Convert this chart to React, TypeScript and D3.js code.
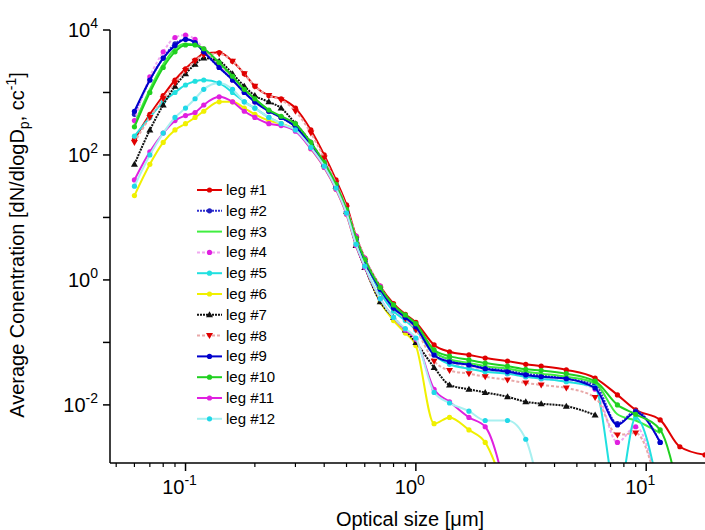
import React from 'react';
import * as d3 from 'd3';

// particle size grid [um]
const sizes = [0.06, 0.07, 0.08, 0.09, 0.1, 0.11, 0.12, 0.14, 0.16, 0.18, 0.2, 0.23, 0.26,
  0.3, 0.35, 0.4, 0.45, 0.5, 0.55, 0.6, 0.7, 0.8, 0.9, 1.0,
  1.2, 1.4, 1.7, 2.0, 2.5, 3.0, 3.5, 4.5, 6.0, 7.5, 9.0, 11.5, 14, 18];

// log10 of dN/dlogDp, null = no data
const leg1 = [2.25, 2.65, 2.95, 3.2, 3.38, 3.52, 3.62, 3.64, 3.5, 3.3, 3.1, 2.95, 2.9,
  2.75, 2.4, 2.0, 1.6, 1.2, 0.7, 0.35, -0.1, -0.38, -0.55, -0.68,
  -1.04, -1.15, -1.2, -1.25, -1.3, -1.35, -1.38, -1.44, -1.57, -1.84, -2.08, -2.24, -2.67, -2.8];
const leg2 = [2.65, 3.2, 3.55, 3.78, 3.85, 3.8, 3.65, 3.4, 3.2, 3.0, 2.85, 2.7, 2.6,
  2.45, 2.15, 1.85, 1.5, 1.1, 0.65, 0.3, -0.15, -0.45, -0.6, -0.75,
  -1.15, -1.28, -1.35, -1.4, -1.45, -1.5, -1.53, -1.58, -1.68, -2.3, -2.1, -2.6, null, null];
const leg3 = [2.5, 3.05, 3.45, 3.7, 3.78, 3.76, 3.68, 3.45, 3.25, 3.05, 2.9, 2.72, 2.6,
  2.48, 2.18, 1.87, 1.52, 1.12, 0.66, 0.32, -0.13, -0.42, -0.58, -0.72,
  -1.15, -1.27, -1.33, -1.38, -1.42, -1.47, -1.5, -1.55, -1.65, -2.15, -2.25, -2.45, null, null];
const leg4 = [2.55, 3.25, 3.65, 3.88, 3.92, 3.85, 3.7, 3.45, 3.2, 3.0, 2.85, 2.7, 2.6,
  2.5, 2.2, 1.9, 1.55, 1.15, 0.7, 0.35, -0.1, -0.45, -0.62, -0.78,
  -1.2, -1.33, -1.4, -1.45, -1.5, -1.55, -1.58, -1.62, -1.75, -2.6, -2.35, -3.5, null, null];
const leg5 = [2.3, 2.6, 2.85, 3.0, 3.12, 3.18, 3.2, 3.15, 3.0, 2.85, 2.75, 2.6, 2.5,
  2.4, 2.15, 1.85, 1.5, 1.1, 0.6, 0.3, -0.2, -0.5, -0.65, -0.8,
  -1.2, -1.35, -1.42, -1.47, -1.5, -1.55, -1.58, -1.63, -1.72, -3.5, -2.2, -3.5, null, null];
const leg6 = [1.35, 1.85, 2.2, 2.4, 2.5, 2.6, 2.7, 2.85, 2.85, 2.75, 2.65, 2.55, 2.5,
  2.4, 2.1, 1.8, 1.45, 1.05, 0.55, 0.2, -0.35, -0.65, -0.85, -1.05,
  -2.3, -2.2, -2.4, -2.6, -3.5, null, null, null, null, null, null, null, null, null];
const leg7 = [1.85, 2.4, 2.8, 3.1, 3.3, 3.45, 3.55, 3.5, 3.3, 3.1, 2.95, 2.85, 2.75,
  2.5, 2.2, 1.85, 1.5, 1.1, 0.55, 0.2, -0.35, -0.6, -0.8, -1.0,
  -1.4, -1.68, -1.75, -1.8, -1.87, -1.95, -1.98, -2.02, -2.16, null, null, null, null, null];
const leg8 = [2.2, 2.6, 2.9, 3.15, 3.35, 3.5, 3.6, 3.62, 3.5, 3.3, 3.1, 2.95, 2.88,
  2.7, 2.35, 1.95, 1.55, 1.15, 0.65, 0.3, -0.15, -0.45, -0.62, -0.8,
  -1.3, -1.45, -1.5, -1.55, -1.6, -1.65, -1.68, -1.73, -1.88, -2.48, -2.45, -3.5, null, null];
const leg9 = [2.7, 3.2, 3.55, 3.75, 3.85, 3.8, 3.65, 3.4, 3.2, 3.0, 2.85, 2.7, 2.6,
  2.45, 2.15, 1.85, 1.5, 1.1, 0.65, 0.3, -0.15, -0.45, -0.6, -0.75,
  -1.2, -1.31, -1.36, -1.42, -1.47, -1.52, -1.55, -1.58, -1.73, -2.32, -2.12, -2.6, null, null];
const leg10 = [2.45, 3.0, 3.4, 3.65, 3.76, 3.76, 3.7, 3.48, 3.26, 3.05, 2.9, 2.72, 2.62,
  2.5, 2.2, 1.88, 1.53, 1.13, 0.67, 0.33, -0.12, -0.4, -0.56, -0.7,
  -1.12, -1.22, -1.28, -1.33, -1.38, -1.43, -1.45, -1.5, -1.62, -2.0, -2.15, -2.4, -3.5, null];
const leg11 = [1.6, 2.05, 2.35, 2.55, 2.63, 2.68, 2.8, 2.93, 2.85, 2.7, 2.6, 2.5, 2.47,
  2.38, 2.1, 1.8, 1.45, 1.05, 0.55, 0.2, -0.3, -0.6, -0.8, -0.95,
  -1.75, -1.95, -2.2, -2.35, -3.5, null, null, null, null, null, null, null, null, null];
const leg12 = [1.5, 2.0, 2.35, 2.6, 2.75, 2.9, 3.05, 3.15, 3.05, 2.85, 2.75, 2.6, 2.5,
  2.4, 2.12, 1.82, 1.47, 1.07, 0.57, 0.22, -0.3, -0.6, -0.78, -0.93,
  -1.8, -1.97, -2.1, -2.25, -2.25, -2.55, -3.5, null, null, null, null, null, null, null];

const names = ['leg #1', 'leg #2', 'leg #3', 'leg #4', 'leg #5', 'leg #6', 'leg #7', 'leg #8', 'leg #9', 'leg #10', 'leg #11', 'leg #12'];
const allSeries = [leg1, leg2, leg3, leg4, leg5, leg6, leg7, leg8, leg9, leg10, leg11, leg12];
const lineColors = ['#e00000', '#3030d0', '#40ee40', '#f0a8f0', '#20e0e0', '#f0f000', '#111111', '#e8a8a8', '#0000cc', '#20d020', '#e020e0', '#a8f0f0'];
const markColors = ['#e00000', '#2020c0', '#40ee40', '#e020e0', '#20e0e0', '#f0f000', '#111111', '#e00000', '#0000cc', '#20d020', '#e020e0', '#20d8e8'];
const dashes = ['', '2,1', '', '3,2', '', '', '2,1', '3,2', '', '', '', ''];
const markers = ['circle', 'circle', 'none', 'circle', 'circle', 'circle', 'triangle', 'tridown', 'circle', 'circle', 'circle', 'circle'];

const M = { l: 110, r: 705, t: 30, b: 463 };
const x = d3.scaleLog().domain([0.047, 18.0]).range([M.l, M.r]);
const y = d3.scaleLinear().domain([-2.93, 4]).range([M.b, M.t]);

const Marker = ({ kind, cx, cy, c }: any) => {
  if (kind === 'none') return null;
  if (kind === 'triangle') return <path d={`M${cx},${cy - 3.5}L${cx + 3.5},${cy + 2.5}L${cx - 3.5},${cy + 2.5}Z`} fill={c} />;
  if (kind === 'tridown') return <path d={`M${cx},${cy + 3.5}L${cx + 3.5},${cy - 2.5}L${cx - 3.5},${cy - 2.5}Z`} fill={c} />;
  return <circle cx={cx} cy={cy} r={2.6} fill={c} />;
};

export default function App() {
  const line = d3.line<any>().defined(d => d[1] !== null).x(d => x(d[0])).y(d => y(d[1])).curve(d3.curveMonotoneX);
  const font = 'Arial, "Liberation Sans", sans-serif';
  const majors = [0.1, 1, 10];
  const minors: number[] = [];
  for (const dec of [0.01, 0.1, 1, 10]) for (let k = 2; k <= 9; k++) { const v = k * dec; if (v > 0.047 && v < 18) minors.push(v); }
  const yDec = [4, 3, 2, 1, 0, -1, -2];
  return (
    <svg width={705} height={530} style={{ position: 'absolute', left: 0, top: 0, background: '#fff' }} fontFamily={font}>
      <defs><clipPath id="pa"><rect x={M.l} y={0} width={M.r - M.l} height={M.b} /></clipPath></defs>
      <g clipPath="url(#pa)">
        {allSeries.map((s, i) => {
          const pts = sizes.map((v, j) => [v, s[j]]);
          return (
            <g key={i}>
              <path d={line(pts) || ''} fill="none" stroke={lineColors[i]} strokeWidth={2} strokeDasharray={dashes[i]} />
              {pts.filter(p => p[1] !== null).map((p, j) => <Marker key={j} kind={markers[i]} cx={x(p[0] as number)} cy={y(p[1] as number)} c={markColors[i]} />)}
            </g>
          );
        })}
      </g>
      <line x1={M.l} x2={M.l} y1={M.t} y2={M.b} stroke="#000" strokeWidth={1.5} />
      <line x1={M.l} x2={M.r} y1={M.b} y2={M.b} stroke="#000" strokeWidth={1.5} />
      {yDec.map(d => (
        <g key={d}>
          <line x1={M.l - 7} x2={M.l} y1={y(d)} y2={y(d)} stroke="#000" strokeWidth={1.5} />
          {d % 2 === 0 && <text x={M.l - 12} y={y(d) + 7} textAnchor="end" fontSize={20}>10<tspan dy={-9} fontSize={14}>{d}</tspan></text>}
        </g>
      ))}
      {minors.map(v => <line key={v} x1={x(v)} x2={x(v)} y1={M.b} y2={M.b + 4} stroke="#000" strokeWidth={1.2} />)}
      {majors.map(v => (
        <g key={v}>
          <line x1={x(v)} x2={x(v)} y1={M.b} y2={M.b + 8} stroke="#000" strokeWidth={1.5} />
          <text x={x(v) - 6} y={M.b + 31} textAnchor="middle" fontSize={20}>10<tspan dy={-9} fontSize={14}>{Math.round(Math.log10(v))}</tspan></text>
        </g>
      ))}
      <text x={410} y={526} textAnchor="middle" fontSize={20}>Optical size [μm]</text>
      <text transform="translate(24,245) rotate(-90)" textAnchor="middle" fontSize={20}>
        Average Conentration [dN/dlogD<tspan dy={5} fontSize={14}>p</tspan><tspan dy={-5}>, cc</tspan><tspan dy={-8} fontSize={14}>-1</tspan><tspan dy={8}>]</tspan>
      </text>
      {names.map((n, i) => {
        const ly = 190 + i * 20.8;
        return (
          <g key={n}>
            <line x1={197} x2={222} y1={ly} y2={ly} stroke={lineColors[i]} strokeWidth={2} strokeDasharray={dashes[i]} />
            <Marker kind={markers[i]} cx={209.5} cy={ly} c={markColors[i]} />
            <text x={226} y={ly + 5} fontSize={15}>{n}</text>
          </g>
        );
      })}
    </svg>
  );
}
